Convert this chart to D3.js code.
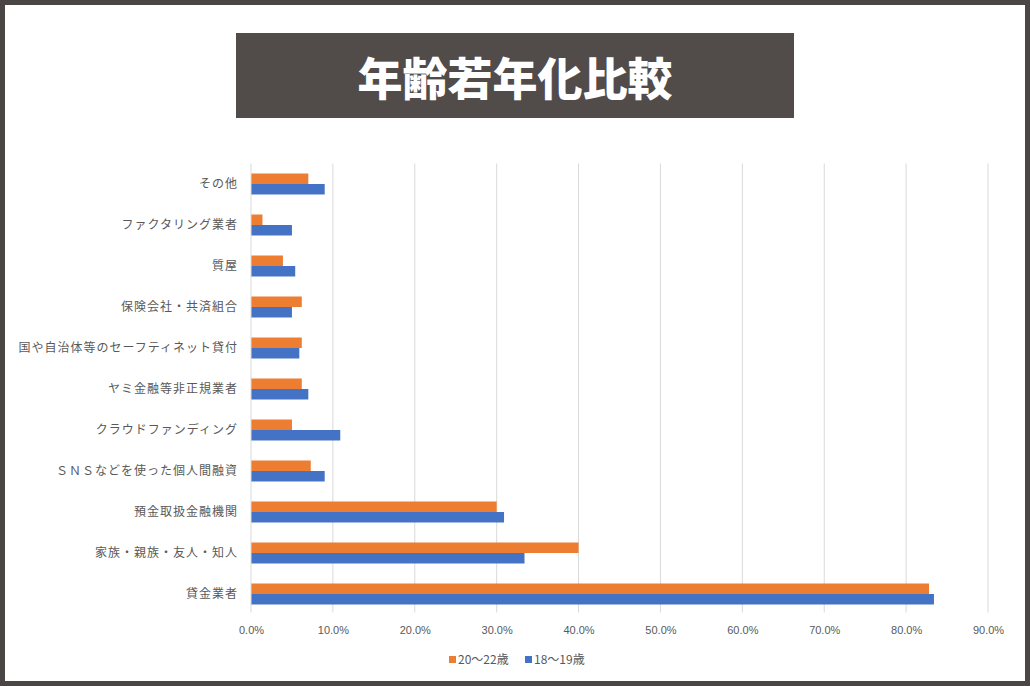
<!DOCTYPE html>
<html lang="ja"><head><meta charset="UTF-8">
<title>年齢若年化比較</title>
<script src="https://d3js.org/d3.v7.min.js"></script>
<style type="text/css">
  body { margin: 0; background: #fff; }
  text { font-family: "Noto Sans CJK JP", "Noto Sans", sans-serif; }
</style>
</head>
<body>
<script type="text/javascript">

var w = 1030;
var h = 686;

// categories, top to bottom as drawn
var categories = [
  "その他",
  "ファクタリング業者",
  "質屋",
  "保険会社・共済組合",
  "国や自治体等のセーフティネット貸付",
  "ヤミ金融等非正規業者",
  "クラウドファンディング",
  "ＳＮＳなどを使った個人間融資",
  "預金取扱金融機関",
  "家族・親族・友人・知人",
  "貸金業者"
];
var age20to22 = [7.0, 1.4, 3.9, 6.2, 6.2, 6.2, 5.0, 7.3, 30.0, 40.0, 82.8];
var age18to19 = [9.0, 5.0, 5.4, 5.0, 5.9, 7.0, 10.9, 9.0, 30.9, 33.4, 83.4];
var seriesNames = ["20〜22歳", "18〜19歳"];
var seriesColors = ["#ED7D31", "#4472C4"];
var xTicks = [0, 10, 20, 30, 40, 50, 60, 70, 80, 90];

var margin = {top: 163.5, left: 251, right: 42, bottom: 71.5};

var svg = d3.select("body")
  .append("svg")
  .attr("width", w)
  .attr("height", h);

// outer frame
svg.append("rect")
  .attr("x", 0).attr("y", 0)
  .attr("width", w).attr("height", h)
  .attr("fill", "#4a4646");
svg.append("rect")
  .attr("x", 5).attr("y", 5)
  .attr("width", w - 10).attr("height", 676)
  .attr("fill", "#ffffff");

// title box
svg.append("rect")
  .attr("x", 236).attr("y", 33)
  .attr("width", 558).attr("height", 85)
  .attr("fill", "#514b4a");
svg.append("text")
  .attr("x", 515).attr("y", 76)
  .attr("text-anchor", "middle")
  .attr("dominant-baseline", "central")
  .attr("font-size", "45px")
  .attr("font-weight", "900")
  .attr("fill", "#ffffff")
  .text("年齢若年化比較");

var g = svg.append("g")
  .attr("transform", "translate(" + margin.left + "," + margin.top + ")");

var xScale = d3.scaleLinear()
  .domain([0, 90])
  .range([0, 737]);

var yScale = d3.scaleBand()
  .domain(categories)
  .range([0, 451])
  .paddingInner(0.488)
  .paddingOuter(0.244);

var sub = d3.scaleBand()
  .domain([0, 1])
  .range([0, yScale.bandwidth()]);

// gridlines
g.selectAll("line.grid")
  .data(xTicks.slice(1))
  .enter()
  .append("line")
  .attr("class", "grid")
  .attr("x1", function(d) { return xScale(d); })
  .attr("x2", function(d) { return xScale(d); })
  .attr("y1", 0)
  .attr("y2", 449)
  .attr("stroke", "#d9d9d9")
  .attr("stroke-width", 1);

// bars
var rows = categories.map(function(c, i) {
  return {cat: c, vals: [age20to22[i], age18to19[i]]};
});

var groups = g.selectAll("g.row")
  .data(rows)
  .enter()
  .append("g")
  .attr("class", "row")
  .attr("transform", function(d) { return "translate(0," + yScale(d.cat) + ")"; });

groups.selectAll("rect")
  .data(function(d) { return d.vals; })
  .enter()
  .append("rect")
  .attr("x", 0)
  .attr("y", function(d, i) { return sub(i); })
  .attr("width", function(d) { return xScale(d); })
  .attr("height", sub.bandwidth())
  .attr("fill", function(d, i) { return seriesColors[i]; });

// category axis line
g.append("line")
  .attr("x1", 0).attr("x2", 0)
  .attr("y1", 0).attr("y2", 449)
  .attr("stroke", "#d9d9d9");

// category labels
var yAxis = d3.axisLeft(yScale).tickSize(0).tickPadding(13);
var ya = g.append("g").call(yAxis);
ya.select(".domain").remove();
ya.selectAll("text")
  .attr("font-size", "12px")
  .attr("fill", "#595959")
  .style("font-family", "'Noto Sans CJK JP', sans-serif")
  .style("letter-spacing", "1px");

// value axis
var xAxis = d3.axisBottom(xScale)
  .tickValues(xTicks)
  .tickSize(0)
  .tickPadding(10)
  .tickFormat(function(d) { return d.toFixed(1) + "%"; });
var xa = g.append("g")
  .attr("transform", "translate(0,453)")
  .call(xAxis);
xa.select(".domain").remove();
xa.selectAll("text")
  .attr("font-size", "11px")
  .attr("fill", "#595959")
  .style("font-family", "'Liberation Sans Narrow', 'Liberation Sans', sans-serif");

// legend
var legendX = [449, 525];
var legend = svg.selectAll("g.legend")
  .data(seriesNames)
  .enter()
  .append("g")
  .attr("class", "legend")
  .attr("transform", function(d, i) { return "translate(" + legendX[i] + ",655)"; });
legend.append("rect")
  .attr("x", 0).attr("y", 1)
  .attr("width", 7).attr("height", 7)
  .attr("fill", function(d, i) { return seriesColors[i]; });
legend.append("text")
  .attr("x", 9).attr("y", 9)
  .attr("font-size", "12px")
  .attr("fill", "#595959")
  .text(function(d) { return d; });

</script>
</body>
</html>
